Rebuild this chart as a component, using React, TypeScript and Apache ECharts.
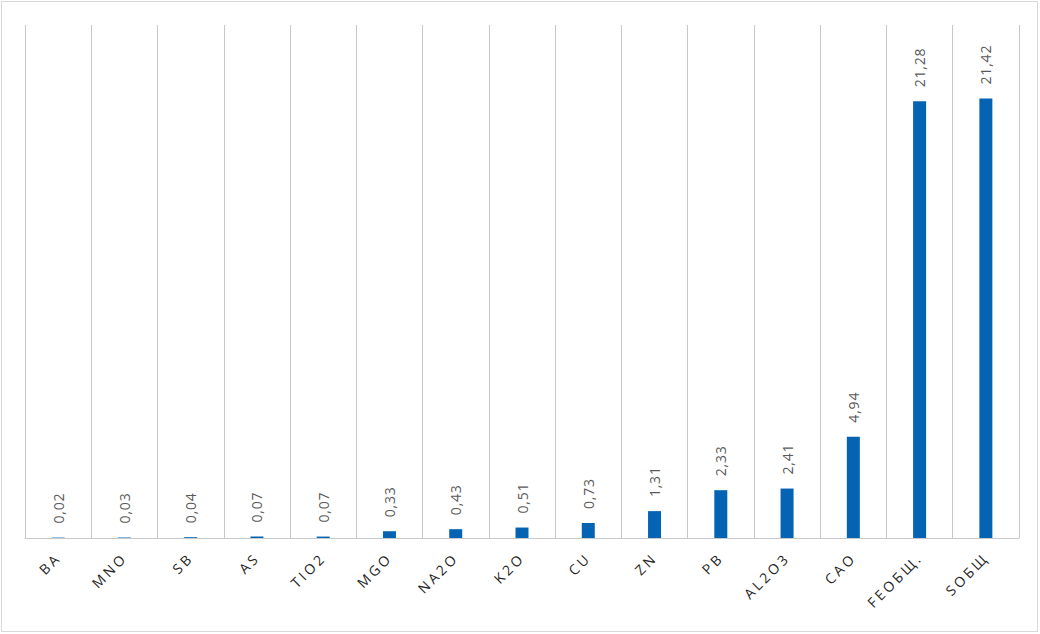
import React, { useEffect, useRef } from 'react';
import * as echarts from 'echarts';

const categories = ['BA', 'MNO', 'SB', 'AS', 'TIO2', 'MGO', 'NA2O', 'K2O', 'CU', 'ZN', 'PB', 'AL2O3', 'CAO', 'FEОБЩ.', 'SОБЩ'];
const values = [0.02, 0.03, 0.04, 0.07, 0.07, 0.33, 0.43, 0.51, 0.73, 1.31, 2.33, 2.41, 4.94, 21.28, 21.42];
const valueMax = 25;

// the category labels are letter-spaced in the original
const labelCss = `.chem-chart text[fill="#262626"] { letter-spacing: 3px; }
.chem-chart text[fill="#595959"] { letter-spacing: 0.8px; }`;

const App: React.FC = () => {
  const chartRef = useRef<HTMLDivElement>(null);

  useEffect(() => {
    if (!chartRef.current) return;
    const chart = echarts.init(chartRef.current, undefined, { renderer: 'svg' });

    const option: echarts.EChartsOption = {
      animation: false,
      backgroundColor: '#ffffff',
      grid: { left: 25, right: 21, top: 25, bottom: 96 },
      xAxis: {
        type: 'category',
        data: categories,
        axisLine: { lineStyle: { color: '#c6c9cc', width: 1 } },
        axisTick: { show: false },
        splitLine: { show: true, lineStyle: { color: '#c6c9cc', width: 1 } },
        axisLabel: {
          rotate: 45,
          margin: 17,
          interval: 0,
          color: '#262626',
          fontSize: 14,
          fontFamily: 'Open Sans'
        }
      },
      yAxis: {
        type: 'value',
        min: 0,
        max: valueMax,
        show: false,
        splitLine: { show: false }
      },
      series: [
        {
          type: 'bar',
          data: values,
          barWidth: 13,
          itemStyle: { color: '#0563b4' },
          label: {
            show: true,
            position: 'top',
            rotate: 90,
            align: 'left',
            verticalAlign: 'middle',
            distance: 14,
            color: '#595959',
            fontSize: 14,
            fontFamily: 'Open Sans',
            formatter: (p: any) => p.value.toFixed(2).replace('.', ',')
          }
        }
      ]
    };

    chart.setOption(option);
    return () => chart.dispose();
  }, []);

  return (
    <div
      className="chem-chart"
      style={{ position: 'fixed', left: 0, top: 0, width: 1040, height: 634, background: '#ffffff' }}
    >
      <style>{labelCss}</style>
      <div ref={chartRef} style={{ position: 'absolute', left: 0, top: 0, width: 1040, height: 634 }} />
      <div
        style={{
          position: 'absolute',
          left: 1,
          top: 1,
          width: 1037,
          height: 631,
          border: '1px solid #d9d9d9',
          boxSizing: 'border-box',
          pointerEvents: 'none'
        }}
      />
    </div>
  );
};

export default App;
